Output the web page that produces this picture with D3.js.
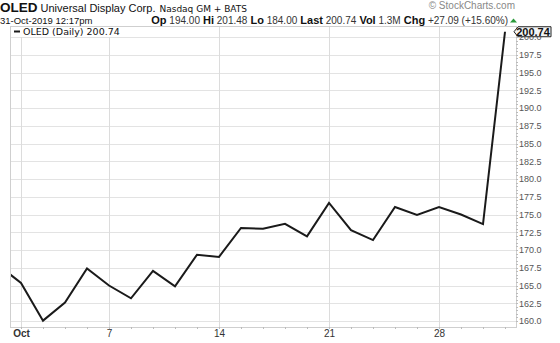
<!DOCTYPE html>
<html>
<head>
<meta charset="utf-8">
<script src="https://cdn.jsdelivr.net/npm/d3@7"></script>
<style>
  body { margin: 0; background: #fff; }
  svg { display: block; font-family: "Liberation Sans", Arial, sans-serif; }
</style>
</head>
<body>
<div id="chart"></div>
<script>
// trading days shown (Sep 30 is clipped at the left edge)
var dates = ["Sep30", "Oct1", "Oct2", "Oct3", "Oct4", "Oct7", "Oct8", "Oct9", "Oct10", "Oct11",
  "Oct14", "Oct15", "Oct16", "Oct17", "Oct18", "Oct21", "Oct22", "Oct23", "Oct24", "Oct25",
  "Oct28", "Oct29", "Oct30", "Oct31"];
var closes = [167.8, 165.35, 160.05, 162.6, 167.4, 165.0, 163.2, 167.06, 164.87, 169.34,
  169.03, 173.1, 173.0, 173.68, 171.93, 176.64, 172.8, 171.4, 176.05, 174.95,
  176.05, 175.0, 173.65, 200.74];
var yTicks = [160, 162.5, 165, 167.5, 170, 172.5, 175, 177.5, 180, 182.5, 185, 187.5, 190, 192.5, 195, 197.5, 200];
var xTickIdx = [1, 5, 10, 15, 20];
var xTickLabels = ["Oct", "7", "14", "21", "28"];
var quoteLabels = ["Op", "Hi", "Lo", "Last", "Vol", "Chg"];
var quoteValues = ["194.00", "201.48", "184.00", "200.74", "1.3M", "+27.09 (+15.60%)"];

var W = 560, H = 343;
var pL = 10, pR = 516, pT = 26, pB = 327;

var svg = d3.select('#chart').append('svg').attr('width', W).attr('height', H);

var x = d3.scaleLinear().domain([0.5, 23.5]).range([pL, pR]);
var y = d3.scaleLinear().domain([160, 200]).range([321, 37]);

// header
var h1 = svg.append('text').attr('x', 0).attr('y', 12).attr('fill', '#111');
h1.append('tspan').attr('font-weight', 'bold').attr('font-size', 13.5).text('OLED');
h1.append('tspan').attr('font-size', 11).attr('dx', 3).text('Universal Display Corp.');
h1.append('tspan').attr('font-size', 9).attr('dx', 4).attr('font-family', 'DejaVu Sans').text('Nasdaq GM + BATS');

svg.append('text').attr('x', 515).attr('y', 9).attr('text-anchor', 'end')
  .attr('font-size', 10).attr('fill', '#888').text('\u00a9 StockCharts.com');

svg.append('text').attr('x', 0).attr('y', 24).attr('font-size', 9.5).attr('fill', '#111')
  .text('31-Oct-2019 12:17pm');

var h2 = svg.append('text').attr('x', 508).attr('y', 24).attr('text-anchor', 'end')
  .attr('font-size', 10).attr('fill', '#111');
quoteLabels.forEach(function(l, i) {
  h2.append('tspan').attr('font-weight', 'bold').attr('font-size', 11).text((i ? '  ' : '') + l);
  h2.append('tspan').attr('fill', '#333').text(' ' + quoteValues[i]);
});
svg.append('path').attr('d', 'M510,22.5 L513.5,18.5 L517,22.5 Z').attr('fill', '#2a9a3a');

// grid
var g = svg.append('g');
g.selectAll('line.hg').data(yTicks).enter().append('line').attr('class', 'hg')
  .attr('x1', pL).attr('x2', pR)
  .attr('y1', function(d) { return Math.round(y(d)) + 0.5; })
  .attr('y2', function(d) { return Math.round(y(d)) + 0.5; })
  .attr('stroke', '#e3e3e3');
g.selectAll('line.vg').data(xTickIdx).enter().append('line').attr('class', 'vg')
  .attr('x1', function(d) { return Math.round(x(d)) + 0.5; })
  .attr('x2', function(d) { return Math.round(x(d)) + 0.5; })
  .attr('y1', pT).attr('y2', pB)
  .attr('stroke', '#dcdcdc');

// frame
svg.append('rect').attr('x', pL + 0.5).attr('y', pT + 0.5)
  .attr('width', pR - pL).attr('height', pB - pT)
  .attr('fill', 'none').attr('stroke', '#cfcfcf');

// minor ticks
var minorY = d3.range(160, 201.5, 0.5);
svg.selectAll('line.my').data(minorY).enter().append('line')
  .attr('x1', pR).attr('x2', pR + 2)
  .attr('y1', function(d) { return Math.round(y(d)) + 0.5; })
  .attr('y2', function(d) { return Math.round(y(d)) + 0.5; })
  .attr('stroke', '#bbb');
svg.selectAll('line.mx').data(d3.range(1, 24)).enter().append('line')
  .attr('x1', function(d) { return Math.round(x(d)) + 0.5; })
  .attr('x2', function(d) { return Math.round(x(d)) + 0.5; })
  .attr('y1', pB).attr('y2', pB + 2)
  .attr('stroke', '#bbb');

// axes
var ya = svg.append('g').attr('transform', 'translate(' + pR + ',0)')
  .call(d3.axisRight(y).tickValues(yTicks).tickFormat(d3.format('.1f')).tickSize(0).tickPadding(3));
ya.select('.domain').remove();
ya.selectAll('text').attr('font-size', 9).attr('fill', '#555').attr('font-family', 'Liberation Sans, Arial');

var xa = svg.append('g').attr('transform', 'translate(0,' + pB + ')')
  .call(d3.axisBottom(x).tickValues(xTickIdx).tickFormat(function(d, i) { return xTickLabels[i]; }).tickSize(0).tickPadding(3));
xa.select('.domain').remove();
xa.selectAll('text').attr('font-size', 10).attr('fill', '#333').attr('font-family', 'Liberation Sans, Arial')
  .attr('font-weight', function(d, i) { return i === 0 ? 'bold' : 'normal'; });

// price line
svg.append('clipPath').attr('id', 'clip').append('rect')
  .attr('x', pL + 1).attr('y', pT).attr('width', pR - pL - 1).attr('height', pB - pT);
var line = d3.line().x(function(d, i) { return x(i); }).y(function(d) { return y(d); });
svg.append('path').datum(closes).attr('clip-path', 'url(#clip)')
  .attr('d', line).attr('fill', 'none').attr('stroke', '#1a1a1a')
  .attr('stroke-width', 2).attr('stroke-linejoin', 'miter');

// legend
svg.append('rect').attr('x', pL + 1).attr('y', pT + 1).attr('width', 122).attr('height', 10).attr('fill', '#fff');
svg.append('line').attr('x1', 14).attr('x2', 20).attr('y1', 31.5).attr('y2', 31.5)
  .attr('stroke', '#1a1a1a').attr('stroke-width', 2);
svg.append('text').attr('x', 23).attr('y', 35).attr('font-size', 9.5).attr('font-family', 'DejaVu Sans')
  .attr('fill', '#111').text('OLED (Daily) ' + closes[closes.length - 1].toFixed(2));

// last price tag
var ly = y(closes[closes.length - 1]);
svg.append('path')
  .attr('d', 'M' + (pR - 2) + ',' + ly + ' L' + (pR + 2) + ',' + (ly - 5) + ' L551,' + (ly - 5) +
    ' L551,' + (ly + 5) + ' L' + (pR + 2) + ',' + (ly + 5) + ' Z')
  .attr('fill', '#f4f4f4').attr('stroke', '#222').attr('stroke-width', 1);
svg.append('text').attr('x', 533).attr('y', ly + 4).attr('text-anchor', 'middle')
  .attr('font-size', 11).attr('font-weight', 'bold').attr('fill', '#111').text(closes[closes.length - 1].toFixed(2));
</script>
</body>
</html>
